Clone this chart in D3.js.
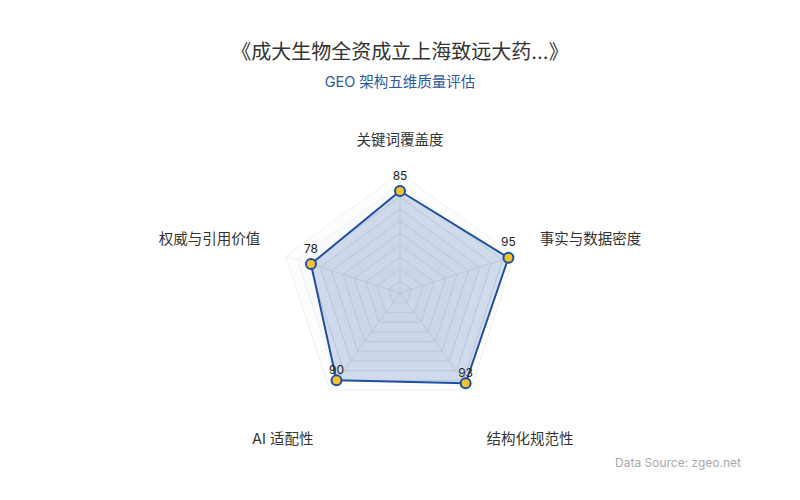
<!DOCTYPE html>
<html>
<head>
<meta charset="utf-8">
<script src="https://cdn.jsdelivr.net/npm/d3@7"></script>
<style>
html,body{margin:0;padding:0;background:#fff;}
text{font-family:Inter,"Noto Sans CJK SC","Noto Sans",sans-serif;}
</style>
</head>
<body>
<svg id="chart" width="800" height="500"></svg>
<script>
const titleText = "《成大生物全资成立上海致远大药...》";
const subtitleText = "GEO 架构五维质量评估";
const sourceText = "Data Source: zgeo.net";
const indicators = ["关键词覆盖度", "事实与数据密度", "结构化规范性", "AI 适配性", "权威与引用价值"];
const values = [85, 95, 93, 90, 78];
const maxValue = 100;
const splitNumber = 10;

const svg = d3.select("#chart");
const W = 800, H = 500;
svg.append("rect").attr("width", W).attr("height", H).attr("fill", "#fff");

const cx = 400, cy = 293, R = 120;
const n = indicators.length;
const angle = i => -Math.PI / 2 + i * 2 * Math.PI / n;
const rScale = d3.scaleLinear().domain([0, maxValue]).range([0, R]);
const pt = (i, v) => [cx + rScale(v) * Math.cos(angle(i)), cy + rScale(v) * Math.sin(angle(i))];

// title
svg.append("text").attr("x", 400).attr("y", 52).attr("text-anchor", "middle")
  .attr("dominant-baseline", "central").attr("font-size", 20).attr("fill", "#333")
  .text(titleText);
svg.append("text").attr("x", 400).attr("y", 81).attr("text-anchor", "middle")
  .attr("dominant-baseline", "central").attr("font-size", 14.5).attr("fill", "#2a58a6")
  .text(subtitleText);

// grid
const g = svg.append("g");
const levels = d3.range(1, splitNumber + 1).map(k => maxValue * k / splitNumber);
const ringPath = v => "M" + d3.range(n).map(i => pt(i, v).join(",")).join("L") + "Z";
levels.slice().reverse().forEach((v, k) => {
  g.append("path").attr("d", ringPath(v))
    .attr("fill", k % 2 === 0 ? "rgba(250,250,252,0.3)" : "rgba(240,242,246,0.25)")
    .attr("stroke", "#edf0f5").attr("stroke-width", 1);
});
d3.range(n).forEach(i => {
  const p = pt(i, maxValue);
  g.append("line").attr("x1", cx).attr("y1", cy).attr("x2", p[0]).attr("y2", p[1])
    .attr("stroke", "#edf0f5").attr("stroke-width", 1);
});

// data area
const line = d3.line().curve(d3.curveLinearClosed);
const pts = values.map((v, i) => pt(i, v));
svg.append("path").attr("d", line(pts))
  .attr("fill", "rgba(40,90,170,0.2)")
  .attr("stroke", "none");

// grid lines visible inside the area
const g2 = svg.append("g").attr("opacity", 0.3);
levels.forEach(v => {
  g2.append("path").attr("d", ringPath(v)).attr("fill", "none")
    .attr("stroke", "#9aa6bb").attr("stroke-width", 0.8);
});
d3.range(n).forEach(i => {
  const p = pt(i, maxValue);
  g2.append("line").attr("x1", cx).attr("y1", cy).attr("x2", p[0]).attr("y2", p[1])
    .attr("stroke", "#9aa6bb").attr("stroke-width", 0.8);
});
const clip = svg.append("clipPath").attr("id", "areaClip");
clip.append("path").attr("d", line(pts));
g2.attr("clip-path", "url(#areaClip)");

svg.append("path").attr("d", line(pts))
  .attr("fill", "none")
  .attr("stroke", "#1f4fa0").attr("stroke-width", 2).attr("stroke-linejoin", "round");

// symbols
svg.selectAll("circle.sym").data(values).join("circle").attr("class", "sym")
  .attr("cx", (d, i) => pt(i, d)[0]).attr("cy", (d, i) => pt(i, d)[1])
  .attr("r", 5).attr("fill", "#f5c22b").attr("stroke", "#1f4fa0").attr("stroke-width", 2);

// value labels
svg.selectAll("text.val").data(values).join("text").attr("class", "val")
  .attr("x", (d, i) => pt(i, d)[0])
  .attr("y", (d, i) => pt(i, d)[1] - (Math.sin(angle(i)) > 0 ? 11 : 16))
  .attr("text-anchor", "middle").attr("dominant-baseline", "central")
  .attr("font-size", 12).attr("fill", "#222")
  .text(d => d);

// axis names
const nameR = R + 27;
indicators.forEach((name, i) => {
  const a = angle(i);
  const c = Math.cos(a), s = Math.sin(a);
  const x = cx + nameR * c;
  let y = cy + nameR * s;
  const anchor = c > 0.01 ? "start" : c < -0.01 ? "end" : "middle";
  if (s < -0.5) y -= 7;          // top
  else if (s > 0.5) y += 27;     // bottom
  else y -= 9;                   // sides
  svg.append("text").attr("x", x).attr("y", y).attr("text-anchor", anchor)
    .attr("dominant-baseline", "central").attr("font-size", 14.5).attr("fill", "#333")
    .text(name);
});

// source
svg.append("text").attr("x", 741).attr("y", 462).attr("text-anchor", "end")
  .attr("dominant-baseline", "central").attr("font-size", 12).attr("fill", "#aaa")
  .text(sourceText);
</script>
</body>
</html>
